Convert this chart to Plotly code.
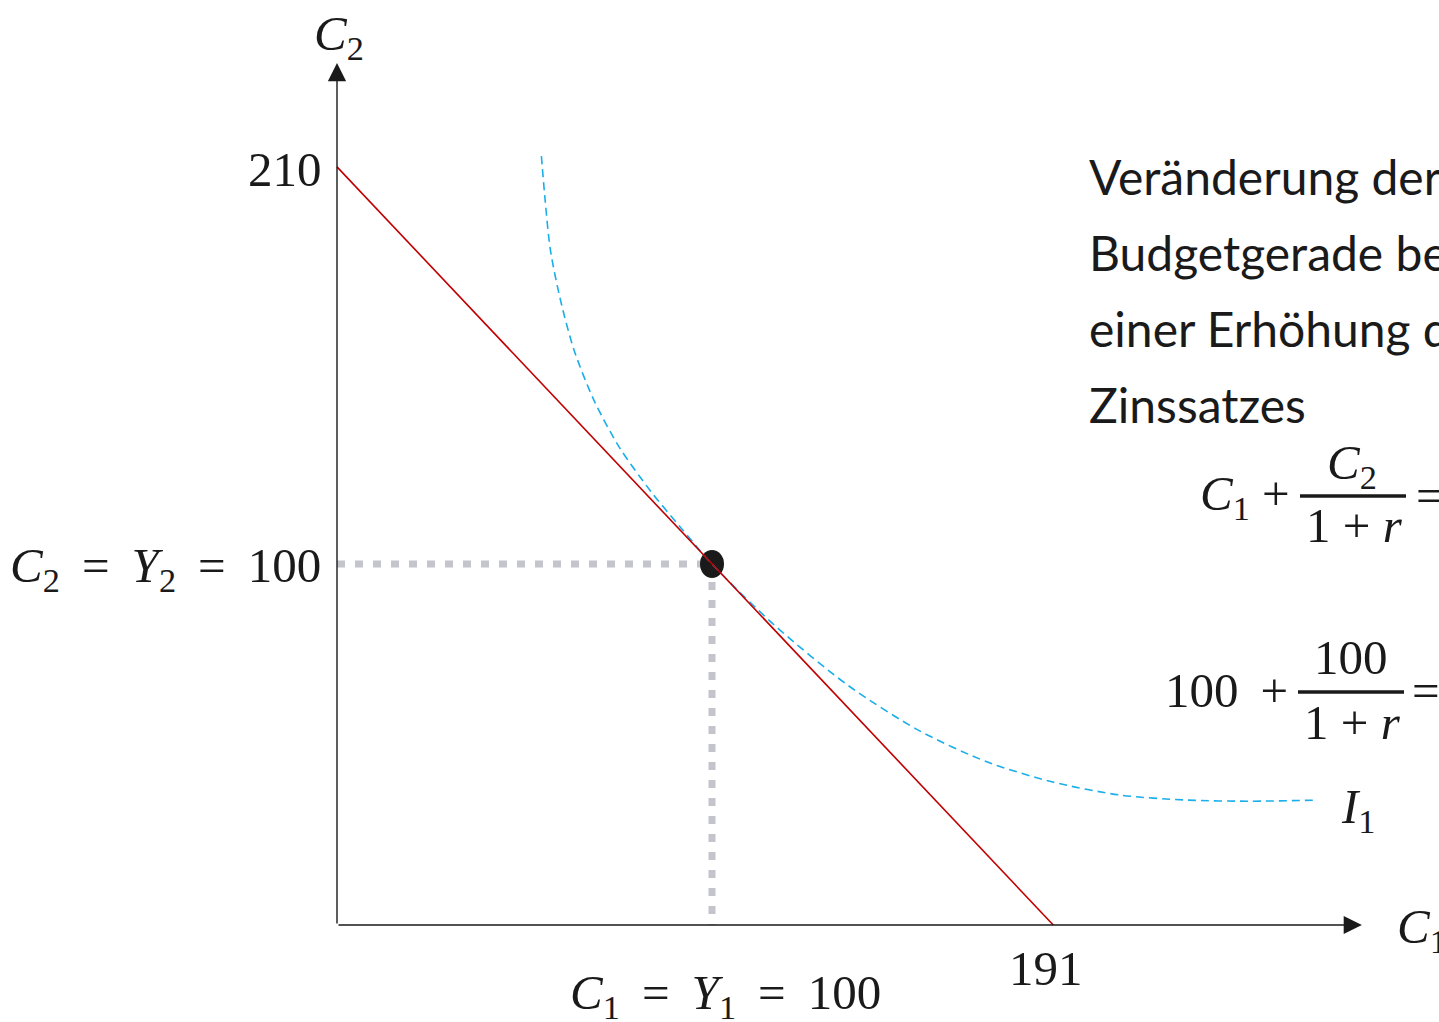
import plotly.graph_objects as go

# Budget line: intercepts on both axes
budget_c1 = [0, 191]
budget_c2 = [210, 0]

# Endowment / optimal point
point_c1 = [100]
point_c2 = [100]

# Indifference curve I1 (tangent to the budget line at the endowment)
curve_c1 = [54.5, 55.5, 56.9, 59.6, 63.2, 68.5, 75.3, 83.7, 91.4, 100.0,
            116.7, 136.5, 155.5, 173.3, 190.9, 208.8, 226.7, 243.5, 261.6]
curve_c2 = [213.0, 200.8, 187.0, 173.1, 159.3, 145.4, 132.3, 120.1, 110.4, 100.0,
            83.0, 66.2, 53.7, 45.2, 39.6, 36.0, 34.6, 34.3, 34.6]

# Axis extents (arrow tips)
x_axis_end = 273.3
y_axis_end = 238.8

W, H = 1439, 1022
X0_PX, Y0_PX = 337, 925          # origin of the diagram in page pixels
SX, SY = 3.75, 3.61              # pixels per unit
X_RANGE = [-X0_PX / SX, (W - X0_PX) / SX]
Y_RANGE = [-(H - Y0_PX) / SY, Y0_PX / SY]

MATH_FONT = "Liberation Serif"
TEXT_FONT = "Lato"
INK = "#1a1a1a"
SP = " \u2009"                   # wider math spacing around relations


def px(x):
    return x / W


def py(y):
    return 1 - y / H


fig = go.Figure()

# Indifference curve
fig.add_trace(go.Scatter(
    x=curve_c1, y=curve_c2, mode="lines",
    line=dict(color="#1aaeea", width=1.6, dash="8px,5px", shape="spline", smoothing=0.8),
    hoverinfo="skip"))

# Budget line
fig.add_trace(go.Scatter(
    x=budget_c1, y=budget_c2, mode="lines",
    line=dict(color="#c00000", width=1.6), hoverinfo="skip"))

shapes = [
    # Dotted guide lines from the point to both axes
    dict(type="line", xref="x", yref="y", layer="below",
         x0=0, y0=point_c2[0], x1=point_c1[0], y1=point_c2[0],
         line=dict(color="#c4c4cc", width=7, dash="8px,10px")),
    dict(type="line", xref="x", yref="y", layer="below",
         x0=point_c1[0], y0=point_c2[0], x1=point_c1[0], y1=0,
         line=dict(color="#c4c4cc", width=7, dash="8px,10px")),
    # The point itself (slightly taller than wide)
    dict(type="circle", xref="x", yref="y", layer="below",
         xsizemode="pixel", ysizemode="pixel",
         xanchor=point_c1[0], yanchor=point_c2[0],
         x0=-12, x1=12, y0=-14, y1=14,
         fillcolor=INK, line=dict(width=0)),
    # Fraction bars
    dict(type="line", xref="paper", yref="paper", x0=px(1300), x1=px(1406), y0=py(496), y1=py(496),
         line=dict(color=INK, width=3.5)),
    dict(type="line", xref="paper", yref="paper", x0=px(1298), x1=px(1404), y0=py(692), y1=py(692),
         line=dict(color=INK, width=3.5)),
]

annotations = []

# Axes with arrowheads
for tip in [(x_axis_end, 0), (0, y_axis_end)]:
    annotations.append(dict(
        x=tip[0], y=tip[1], ax=0, ay=0, xref="x", yref="y", axref="x", ayref="y",
        text="", showarrow=True, arrowhead=2, arrowsize=2.6, arrowwidth=1.4,
        arrowcolor=INK, standoff=0))

math = dict(family=MATH_FONT, size=49, color=INK)

# Axis titles
annotations.append(dict(x=0, y=y_axis_end, xref="x", yref="y", text="<i>C</i><sub>2</sub>",
                        showarrow=False, font=math, yshift=26, xshift=2))
annotations.append(dict(x=x_axis_end, y=0, xref="x", yref="y", text="<i>C</i><sub>1</sub>",
                        showarrow=False, font=math, xanchor="left", xshift=33, yshift=-4))

# Intercept and point labels
annotations.append(dict(x=0, y=budget_c2[0], xref="x", yref="y", text=f"{budget_c2[0]}",
                        showarrow=False, font=math, xanchor="right", xshift=-13, yshift=-3))
annotations.append(dict(x=budget_c1[1], y=0, xref="x", yref="y", text=f"{budget_c1[1]}",
                        showarrow=False, font=math, yshift=-43, xshift=-7))
annotations.append(dict(x=0, y=point_c2[0], xref="x", yref="y",
                        text=f"<i>C</i><sub>2</sub>{SP}={SP}<i>Y</i><sub>2</sub>{SP}={SP}{point_c2[0]}",
                        showarrow=False, font=math, xanchor="right", xshift=-14, yshift=-4))
annotations.append(dict(x=point_c1[0], y=0, xref="x", yref="y",
                        text=f"<i>C</i><sub>1</sub>{SP}={SP}<i>Y</i><sub>1</sub>{SP}={SP}{point_c1[0]}",
                        showarrow=False, font=math, yshift=-70, xshift=13))

# Curve label
annotations.append(dict(x=curve_c1[-1], y=curve_c2[-1], xref="x", yref="y",
                        text="<i>I</i><sub>1</sub>", showarrow=False, font=math,
                        xanchor="left", xshift=21, yshift=-9))

# Caption on the right
caption = ["Veränderung der", "Budgetgerade bei", "einer Erhöhung des", "Zinssatzes"]
for i, line in enumerate(caption):
    annotations.append(dict(x=px(1087), y=py(176 + 76 * i), xref="paper", yref="paper",
                            text=line, showarrow=False, xanchor="left", yanchor="middle",
                            font=dict(family=TEXT_FONT, size=48, color=INK)))


def eq_text(x, y, text, anchor):
    annotations.append(dict(x=px(x), y=py(y), xref="paper", yref="paper", text=text,
                            showarrow=False, xanchor=anchor, yanchor="middle", font=math))


# C1 + C2/(1+r) =
eq_text(1292, 497, "<i>C</i><sub>1</sub> +", "right")
eq_text(1352, 466, "<i>C</i><sub>2</sub>", "center")
eq_text(1354, 525, "1 + <i>r</i>", "center")
eq_text(1414, 495, "=", "left")

# 100 + 100/(1+r) =
eq_text(1290, 690, f"100{SP}+", "right")
eq_text(1351, 657, "100", "center")
eq_text(1352, 722, "1 + <i>r</i>", "center")
eq_text(1410, 690, "=", "left")

fig.update_layout(
    width=W, height=H, autosize=False,
    margin=dict(l=0, r=0, t=0, b=0),
    paper_bgcolor="white", plot_bgcolor="white",
    showlegend=False,
    xaxis=dict(range=X_RANGE, visible=False, fixedrange=True),
    yaxis=dict(range=Y_RANGE, visible=False, fixedrange=True),
    annotations=annotations, shapes=shapes,
)

fig.write_html("out.html", config={"displayModeBar": False})
